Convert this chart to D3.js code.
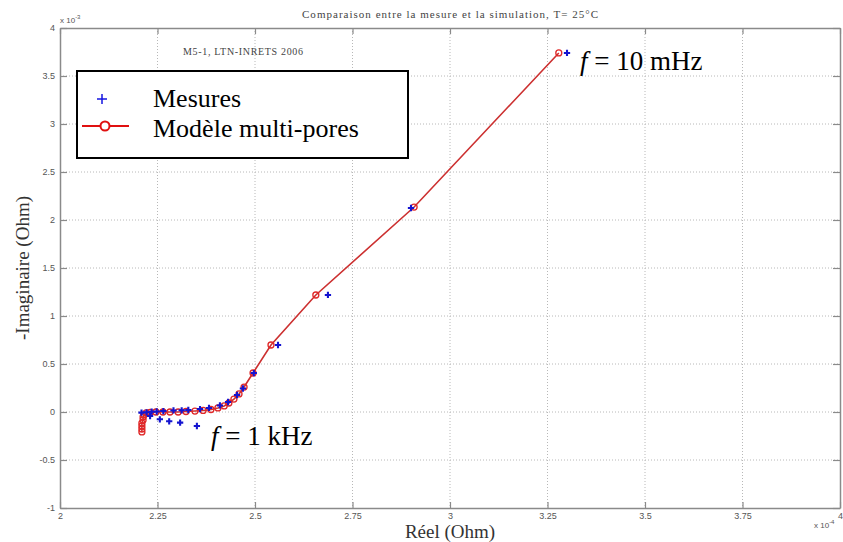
<!DOCTYPE html>
<html><head><meta charset="utf-8">
<script src="https://cdn.jsdelivr.net/npm/d3@7"></script>
<style>body{margin:0;background:#fff}svg{display:block}</style>
</head><body>
<svg id="c" width="843" height="542"></svg>
<script>
// Units: Re x 1e-4 Ohm, -Im x 1e-3 Ohm
const measRe = [2.209,2.222,2.235,2.248,2.265,2.291,2.312,2.329,2.359,2.382,2.410,2.431,2.454,2.469,2.497,2.559,2.687,2.900,3.300,
                2.231,2.256,2.280,2.308,2.351];
const measIm = [-0.007,-0.003,0.003,0.005,0.010,0.016,0.018,0.021,0.031,0.042,0.068,0.104,0.177,0.245,0.406,0.698,1.219,2.125,3.740,
                -0.042,-0.076,-0.097,-0.111,-0.146];
const modelRe = [2.210,2.210,2.210,2.210,2.213,2.213,2.215,2.221,2.231,2.246,2.264,2.282,2.303,2.323,2.346,2.367,2.387,2.405,2.421,2.433,2.446,2.459,2.472,2.495,2.541,2.656,2.908,3.279];
const modelIm = [-0.208,-0.177,-0.146,-0.115,-0.083,-0.052,-0.031,-0.010,-0.005,0,0,0,0,0.005,0.010,0.016,0.026,0.042,0.063,0.094,0.135,0.188,0.260,0.406,0.698,1.219,2.135,3.740];
const xTicks = [2,2.25,2.5,2.75,3,3.25,3.5,3.75,4];
const xTickLabels = ["2","2.25","2.5","2.75","3","3.25","3.5","3.75","4"];
const yTicks = [-1,-0.5,0,0.5,1,1.5,2,2.5,3,3.5,4];
const yTickLabels = ["-1","-0.5","0","0.5","1","1.5","2","2.5","3","3.5","4"];
const legendLabels = ["Mesures","Modèle multi-pores"];
const title = "Comparaison entre la mesure et la simulation, T= 25°C";
const note = "M5-1, LTN-INRETS 2006";

const svg = d3.select("#c");
const L=60,R=840,T=28,B=508;
const x = d3.scaleLinear().domain([2,4]).range([L,R]);
const y = d3.scaleLinear().domain([-1,4]).range([B,T]);
const axisCol = "#8a8a8a", labCol="#555";

// grid
const grid = svg.append("g").attr("stroke","#b8b8b8").attr("stroke-width",1).attr("stroke-dasharray","1,2");
xTicks.slice(1,-1).forEach(v=>grid.append("line").attr("x1",x(v)).attr("x2",x(v)).attr("y1",T).attr("y2",B));
yTicks.slice(1,-1).forEach(v=>grid.append("line").attr("y1",y(v)).attr("y2",y(v)).attr("x1",L).attr("x2",R));

function styleAxis(g){
  g.select(".domain").attr("stroke",axisCol).attr("stroke-width",1.5);
  g.selectAll(".tick line").attr("stroke",axisCol).attr("stroke-width",1.2);
  g.selectAll(".tick text").attr("fill",labCol).style("font-family","'Liberation Sans',Arial,sans-serif").style("font-size","9px");
}
const xa = svg.append("g").attr("transform",`translate(0,${B})`)
  .call(d3.axisBottom(x).tickValues(xTicks).tickFormat((d,i)=>xTickLabels[i]).tickSizeInner(-6).tickSizeOuter(0).tickPadding(5));
styleAxis(xa);
const xt = svg.append("g").attr("transform",`translate(0,${T})`)
  .call(d3.axisTop(x).tickValues(xTicks).tickFormat("").tickSizeInner(-6).tickSizeOuter(0));
styleAxis(xt);
const ya = svg.append("g").attr("transform",`translate(${L},0)`)
  .call(d3.axisLeft(y).tickValues(yTicks).tickFormat((d,i)=>yTickLabels[i]).tickSizeInner(-7).tickSizeOuter(0).tickPadding(5));
styleAxis(ya);
const yr = svg.append("g").attr("transform",`translate(${R},0)`)
  .call(d3.axisRight(y).tickValues(yTicks).tickFormat("").tickSizeInner(-7).tickSizeOuter(0));
styleAxis(yr);

// exponent labels
const small = "'Liberation Sans',Arial,sans-serif";
const e1 = svg.append("text").attr("x",60).attr("y",23).attr("fill",labCol).style("font-family",small).style("font-size","8px");
e1.append("tspan").text("x 10");
e1.append("tspan").attr("dy",-4).style("font-size","6px").text("-3");
const e2 = svg.append("text").attr("x",814).attr("y",528).attr("fill",labCol).style("font-family",small).style("font-size","8px");
e2.append("tspan").text("x 10");
e2.append("tspan").attr("dy",-4).style("font-size","6px").text("-4");

// title & note
svg.append("text").attr("x",450).attr("y",18).attr("text-anchor","middle").attr("fill","#444")
  .style("font-family","'Liberation Serif','Times New Roman',serif").style("font-size","11px")
  .attr("textLength",296).attr("lengthAdjust","spacing").text(title);
svg.append("text").attr("x",183).attr("y",55).attr("fill","#444")
  .style("font-family","'Liberation Serif','Times New Roman',serif").style("font-size","10px")
  .attr("textLength",120).attr("lengthAdjust","spacing").text(note);

// axis labels
const serif = "'Liberation Serif','Times New Roman',serif";
svg.append("text").attr("x",450).attr("y",538).attr("text-anchor","middle").attr("fill","#333")
  .style("font-family",serif).style("font-size","19px").text("Réel (Ohm)");
svg.append("text").attr("transform","translate(29,268) rotate(-90)").attr("text-anchor","middle").attr("fill","#333")
  .style("font-family",serif).style("font-size","19px").text("-Imaginaire (Ohm)");

// model line
const model = modelRe.map((v,i)=>[v,modelIm[i]]);
svg.append("path").datum(model).attr("fill","none").attr("stroke","#cc3030").attr("stroke-width",1.6)
  .attr("d",d3.line().x(d=>x(d[0])).y(d=>y(d[1])));
svg.append("g").selectAll("circle").data(model).join("circle")
  .attr("cx",d=>x(d[0])).attr("cy",d=>y(d[1])).attr("r",3)
  .attr("fill","none").attr("stroke","#e02828").attr("stroke-width",1.3);

// measurements
const meas = measRe.map((v,i)=>[v,measIm[i]]);
const plus = d3.symbol().type(d3.symbolCross).size(22);
svg.append("g").selectAll("path").data(meas).join("path")
  .attr("transform",d=>`translate(${x(d[0])},${y(d[1])})`)
  .attr("d",plus).attr("fill","#1414d0");

// annotations
function fLabel(px,py,rest){
  const t = svg.append("text").attr("x",px).attr("y",py).attr("fill","#000")
    .style("font-family",serif).style("font-size","27px");
  t.append("tspan").style("font-style","italic").text("f");
  t.append("tspan").text(" = "+rest);
}
fLabel(211,445,"1 kHz");
fLabel(580,70,"10 mHz");

// legend
const lg = svg.append("g");
lg.append("rect").attr("x",77).attr("y",71).attr("width",331).attr("height",87)
  .attr("fill","#fff").attr("stroke","#000").attr("stroke-width",2);
lg.append("g").attr("stroke","#1414e0").attr("stroke-width",1.5).call(g=>{
  g.append("line").attr("x1",97).attr("x2",107).attr("y1",99).attr("y2",99);
  g.append("line").attr("x1",102).attr("x2",102).attr("y1",94).attr("y2",104);
});
lg.append("line").attr("x1",82).attr("x2",129).attr("y1",126).attr("y2",126).attr("stroke","#e01010").attr("stroke-width",2);
lg.append("circle").attr("cx",105).attr("cy",126).attr("r",4.5).attr("fill","#fff").attr("stroke","#e01010").attr("stroke-width",2);
lg.selectAll("text.l").data(legendLabels).join("text").attr("class","l")
  .attr("x",153).attr("y",(d,i)=>107+i*30).attr("fill","#000")
  .style("font-family",serif).style("font-size","26px").text(d=>d);
</script>
</body></html>
